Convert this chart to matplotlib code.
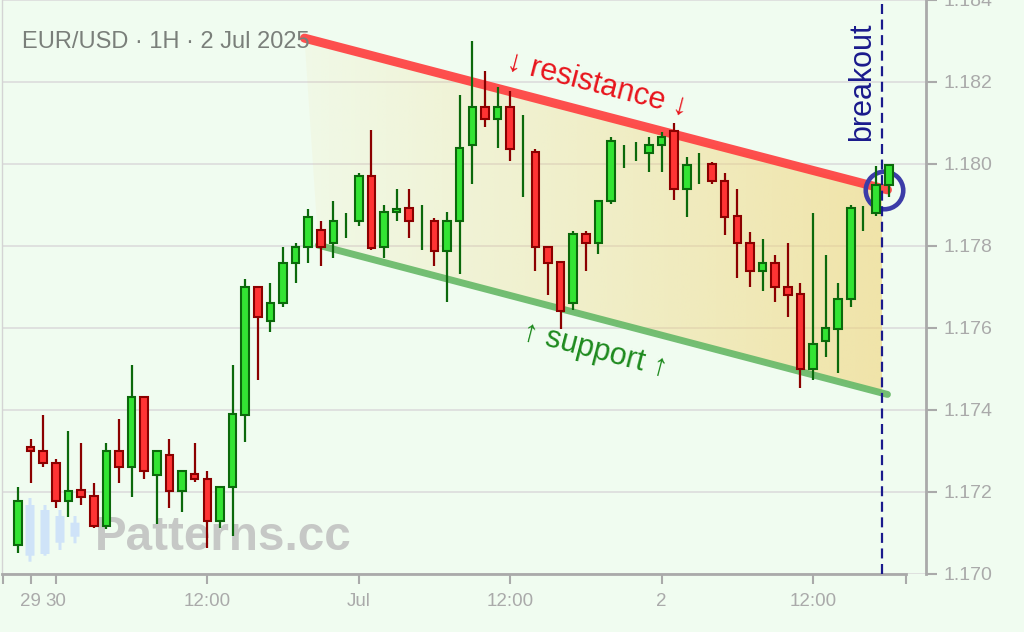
import numpy as np
import matplotlib
matplotlib.use('Agg')
import matplotlib.pyplot as plt
from matplotlib.patches import Rectangle, Polygon, FancyBboxPatch

# ---------------- data (EUR/USD, 1H candles, 29 Jun 21:00 -> 2 Jul 18:00) ----------------
opens = [1.17071, 1.17310, 1.17301, 1.17271, 1.17178, 1.17204, 1.17190, 1.17118, 1.17301, 1.17260,
         1.17432, 1.17241, 1.17291, 1.17202, 1.17243, 1.17232, 1.17129, 1.17213, 1.17388, 1.17701,
         1.17617, 1.17660, 1.17758, 1.17798, 1.17838, 1.17808, 1.17850, 1.17861, 1.17971, 1.17798,
         1.17882, 1.17892, 1.17855, 1.17862, 1.17789, 1.17861, 1.18046, 1.18140, 1.18109, 1.18140,
         1.18020, 1.18029, 1.17798, 1.17760, 1.17660, 1.17829, 1.17807, 1.17910, 1.18020, 1.18030,
         1.18028, 1.18046, 1.18081, 1.17939, 1.17990, 1.17999, 1.17959, 1.17872, 1.17808, 1.17739,
         1.17759, 1.17701, 1.17682, 1.17499, 1.17569, 1.17597, 1.17670, 1.17880, 1.17880, 1.17949]
highs = [1.17212, 1.17329, 1.17388, 1.17280, 1.17349, 1.17320, 1.17221, 1.17319, 1.17378, 1.17510,
         1.17434, 1.17302, 1.17329, 1.17253, 1.17319, 1.17251, 1.17215, 1.17510, 1.17719, 1.17702,
         1.17709, 1.17797, 1.17807, 1.17890, 1.17861, 1.17910, 1.17881, 1.17977, 1.18083, 1.17900,
         1.17938, 1.17938, 1.17900, 1.17869, 1.17882, 1.18168, 1.18300, 1.18227, 1.18187, 1.18178,
         1.18120, 1.18037, 1.17799, 1.17761, 1.17837, 1.17837, 1.17911, 1.18065, 1.18046, 1.18054,
         1.18065, 1.18079, 1.18099, 1.18016, 1.18026, 1.18006, 1.17977, 1.17938, 1.17835, 1.17816,
         1.17778, 1.17807, 1.17709, 1.17880, 1.17778, 1.17710, 1.17900, 1.17898, 1.17996, 1.17998]
lows = [1.17052, 1.17223, 1.17262, 1.17160, 1.17140, 1.17169, 1.17111, 1.17110, 1.17223, 1.17189,
        1.17232, 1.17121, 1.17160, 1.17150, 1.17224, 1.17063, 1.17111, 1.17093, 1.17321, 1.17473,
        1.17590, 1.17652, 1.17710, 1.17759, 1.17750, 1.17770, 1.17819, 1.17849, 1.17790, 1.17770,
        1.17862, 1.17819, 1.17790, 1.17750, 1.17663, 1.17731, 1.17950, 1.18091, 1.18038, 1.18008,
        1.17920, 1.17740, 1.17680, 1.17598, 1.17644, 1.17740, 1.17780, 1.17902, 1.17990, 1.18008,
        1.17980, 1.17980, 1.17912, 1.17871, 1.17950, 1.17951, 1.17827, 1.17721, 1.17701, 1.17691,
        1.17663, 1.17628, 1.17453, 1.17473, 1.17530, 1.17491, 1.17652, 1.17837, 1.17873, 1.17920]
closes = [1.17179, 1.17300, 1.17271, 1.17178, 1.17203, 1.17187, 1.17118, 1.17301, 1.17260, 1.17432,
          1.17251, 1.17301, 1.17202, 1.17252, 1.17231, 1.17129, 1.17213, 1.17390, 1.17701, 1.17628,
          1.17662, 1.17759, 1.17798, 1.17871, 1.17798, 1.17862, 1.17850, 1.17971, 1.17796, 1.17882,
          1.17891, 1.17861, 1.17855, 1.17789, 1.17862, 1.18038, 1.18140, 1.18109, 1.18140, 1.18037,
          1.18020, 1.17797, 1.17758, 1.17641, 1.17829, 1.17807, 1.17910, 1.18057, 1.18020, 1.18030,
          1.18046, 1.18067, 1.17938, 1.17998, 1.17990, 1.17959, 1.17870, 1.17807, 1.17739, 1.17759,
          1.17699, 1.17680, 1.17499, 1.17560, 1.17599, 1.17671, 1.17892, 1.17880, 1.17949, 1.17998]

xtick_pos = [1, 3, 15, 27, 39, 51, 63]
xtick_labels = ['29', '30', '12:00', 'Jul', '12:00', '2', '12:00']
ytick_vals = [1.170, 1.172, 1.174, 1.176, 1.178, 1.180, 1.182, 1.184]

res_x = [22.7, 68.9]
res_y = [1.18307, 1.17937]
sup_x = [23.8, 68.9]
sup_y = [1.17802, 1.17438]
breakout_x = 68.5
circle_x, circle_y = 68.62, 1.17937

title = 'EUR/USD · 1H · 2 Jul 2025'
FONT = ['Liberation Sans', 'DejaVu Sans']

# ---------------- figure ----------------
BG = '#f0fcf0'
fig = plt.figure(figsize=(10.24, 6.32), dpi=100, facecolor=BG)
ax = fig.add_axes([2 / 1024, 58 / 632, 923.7 / 1024, 574 / 632])
ax.set_facecolor('none')

XMIN, XMAX = -1.268, 71.93
YMIN, YMAX = 1.170, 1.184

# gradient channel fill
def line_at(xa, ya, x):
    return ya[0] + (ya[1] - ya[0]) * (x - xa[0]) / (xa[1] - xa[0])

poly_pts = [(res_x[0], res_y[0]), (breakout_x, line_at(res_x, res_y, breakout_x)),
            (breakout_x, line_at(sup_x, sup_y, breakout_x)), (sup_x[0], sup_y[0])]
clip = Polygon(poly_pts, closed=True, transform=ax.transData, facecolor='none', edgecolor='none')
grad = np.linspace(0, 1, 256)
rgba = np.zeros((2, 256, 4))
rgba[..., 0] = 0xf0 / 255
rgba[..., 1] = 0xd4 / 255
rgba[..., 2] = 0x7a / 255
rgba[..., 3] = 0.08 + 0.52 * grad
im = ax.imshow(rgba, extent=[res_x[0], breakout_x, YMIN, YMAX], origin='lower',
               aspect='auto', zorder=2, interpolation='bilinear')
im.set_clip_path(clip)

# resistance / support lines
ax.plot(res_x, res_y, color='#ff4040', lw=6.5, alpha=0.92, solid_capstyle='round', zorder=3)
ax.plot(sup_x, sup_y, color='#6cbb6c', lw=5, alpha=0.95, solid_capstyle='round', zorder=3)

# breakout line and circle
ax.axvline(breakout_x, color='#1a1a8c', lw=1.6, ls=(0, (4.5, 2.5)), zorder=3.6)
ax.plot([circle_x], [circle_y], marker='o', ms=27, mfc='none', mec='#3c3ca8', mew=3.3, zorder=3.5)

# candles
GREEN_FILL, GREEN_EDGE = '#33e433', '#0b690b'
RED_FILL, RED_EDGE = '#ff3434', '#8b0000'
bw = 0.6
for i, (o, h, l, c) in enumerate(zip(opens, highs, lows, closes)):
    up = c >= o
    edge = GREEN_EDGE if up else RED_EDGE
    fill = GREEN_FILL if up else RED_FILL
    ax.vlines(i, l, h, color=edge, lw=1.6, zorder=4)
    if abs(c - o) > 1e-7:
        ax.add_patch(Rectangle((i - bw / 2, min(o, c)), bw, abs(c - o), facecolor=fill,
                               edgecolor=edge, lw=1.5, zorder=5))

# labels on chart
ax.text(45.88, 1.18193, '↓ resistance ↓', color='#e8141c', fontsize=22, family=FONT,
        rotation=-14.6, rotation_mode='anchor', ha='center', va='center', zorder=6)
ax.text(45.72, 1.17546, '↑ support ↑', color='#1e8a1e', fontsize=22, family=FONT,
        rotation=-14.6, rotation_mode='anchor', ha='center', va='center', zorder=6)
ax.text(66.92, 1.18201, 'breakout', color='#1a1a8c', fontsize=22, family=FONT,
        rotation=90, ha='center', va='center', zorder=6)

# title and watermark
fig.text(22 / 1024, 1 - 41.5 / 632, title, color='#7a7f7a', fontsize=17, family=FONT,
         ha='left', va='center')
ax.text(95 / 1024, 1 - 550 / 632, 'Patterns.cc', transform=fig.transFigure, color='#c6c8c6',
        fontsize=34.3, fontweight='bold', family=FONT, ha='left', va='baseline', zorder=1)

# logo candles (light blue)
logo = [(30, 505, 555.7, 498, 561.7), (45, 510, 554, 505, 555.7),
        (60, 516, 542.7, 510, 550), (75, 522.7, 536.7, 516, 543.3)]
for (lx, bt, bb, wt, wb) in logo:
    W, H = 1024, 632
    ax.add_patch(FancyBboxPatch(((lx - 1.5) / W, 1 - wb / H), 3 / W, (wb - wt) / H,
                                boxstyle='round,pad=0', transform=fig.transFigure,
                                facecolor='#cfe3f8', edgecolor='none', zorder=1, clip_on=False))
    ax.add_patch(FancyBboxPatch(((lx - 4.5) / W, 1 - bb / H), 9 / W, (bb - bt) / H,
                                boxstyle='round,pad=0', transform=fig.transFigure,
                                facecolor='#cfe3f8', edgecolor='none', zorder=1, clip_on=False))

# axes styling
ax.set_xlim(XMIN, XMAX)
ax.set_ylim(YMIN, YMAX)
ax.yaxis.tick_right()
ax.set_yticks(ytick_vals)
ax.set_yticklabels([f'{v:.3f}' for v in ytick_vals])
x_end = 70.36
ax.set_xticks([-1.19] + xtick_pos + [x_end])
ax.set_xticklabels([''] + xtick_labels + [''])
for lab in ax.get_xticklabels() + ax.get_yticklabels():
    lab.set_family(FONT)
ax.tick_params(axis='y', length=8, width=1.5, color='#aaaaaa', labelcolor='#aaaaaa',
               labelsize=14, pad=5, direction='out')
ax.tick_params(axis='x', length=7.5, width=1.5, color='#aaaaaa', labelcolor='#aaaaaa',
               labelsize=13.5, pad=6, direction='out')
ax.grid(axis='y', color='#dcdcdc', lw=1.2, zorder=0.5)
ax.set_axisbelow(True)
ax.spines['top'].set_visible(False)
ax.spines['left'].set_color('#d4d4d4')
ax.spines['left'].set_linewidth(1.0)
ax.spines['right'].set_color('#aaaaaa')
ax.spines['right'].set_linewidth(2)
ax.spines['bottom'].set_color('#aaaaaa')
ax.spines['bottom'].set_linewidth(2)
ax.spines['bottom'].set_bounds(XMIN, x_end)

fig.savefig('out.png', dpi=100, facecolor=BG)
